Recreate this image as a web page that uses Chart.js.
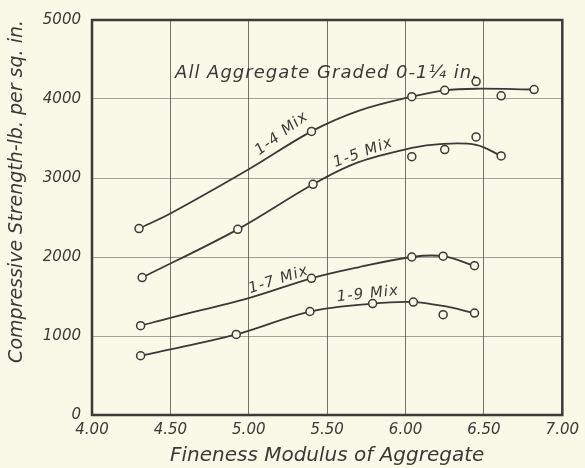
<!DOCTYPE html>
<html>
<head>
<meta charset="utf-8">
<script src="https://cdn.jsdelivr.net/npm/chart.js@4"></script>
<style>
  html, body { margin: 0; padding: 0; background: #f8f9e6; }
  #wrap { width: 585px; height: 468px; }
</style>
</head>
<body>
<div id="wrap"><canvas id="myChart" width="585" height="468"></canvas></div>
<script>
// test points (circles)
var fm14 = [4.30, 5.40, 6.04, 6.25, 6.45, 6.61, 6.82];
var str14 = [2360, 3590, 4030, 4110, 4220, 4040, 4120];
var fm15 = [4.32, 4.93, 5.41, 6.04, 6.25, 6.45, 6.61];
var str15 = [1740, 2350, 2920, 3270, 3360, 3520, 3280];
var fm17 = [4.31, 5.40, 6.04, 6.24, 6.44];
var str17 = [1130, 1730, 2000, 2010, 1890];
var fm19 = [4.31, 4.92, 5.39, 5.79, 6.05, 6.24, 6.44];
var str19 = [750, 1020, 1310, 1410, 1430, 1270, 1290];

// faired curves
var curveFm14 = [4.30, 4.50, 5.00, 5.40, 5.70, 6.04, 6.25, 6.45, 6.82];
var curveStr14 = [2360, 2550, 3110, 3590, 3850, 4030, 4110, 4130, 4120];
var curveFm15 = [4.32, 4.93, 5.41, 5.70, 6.04, 6.22, 6.45, 6.61];
var curveStr15 = [1740, 2350, 2920, 3200, 3380, 3430, 3420, 3280];
var curveFm17 = [4.31, 4.50, 5.00, 5.40, 5.70, 6.04, 6.24, 6.44];
var curveStr17 = [1130, 1230, 1480, 1730, 1870, 2000, 2010, 1890];
var curveFm19 = [4.31, 4.50, 4.92, 5.39, 5.79, 6.05, 6.24, 6.44];
var curveStr19 = [750, 830, 1020, 1310, 1410, 1430, 1380, 1290];

var mixes = ['1-4 Mix', '1-5 Mix', '1-7 Mix', '1-9 Mix'];
var xTickValues = [4.0, 4.5, 5.0, 5.5, 6.0, 6.5, 7.0];
var yTickValues = [0, 1000, 2000, 3000, 4000, 5000];

var ink = '#3a3a36';
var handFont = '"DejaVu Sans", sans-serif';

function pairs(xs, ys) {
  return xs.map(function (x, i) { return { x: x, y: ys[i] }; });
}

function curve(xs, ys, label) {
  return {
    type: 'line', label: label + ' curve', data: pairs(xs, ys),
    borderColor: ink, borderWidth: 1.8, pointRadius: 0,
    tension: 0.35, fill: false, order: 2
  };
}
function dots(xs, ys, label) {
  return {
    type: 'scatter', label: label, data: pairs(xs, ys),
    borderColor: ink, backgroundColor: '#f8f9e6', borderWidth: 1.5,
    pointRadius: 4, order: 1
  };
}

// text written on the drawing
var notes = [
  { text: 'All Aggregate Graded 0-1\u00bc in.', x: 4.53, y: 4320, rot: 0, size: 18, align: 'left' },
  { text: mixes[0], x: 5.21, y: 3560, rot: -37, size: 15, align: 'center' },
  { text: mixes[1], x: 5.73, y: 3320, rot: -20, size: 15, align: 'center' },
  { text: mixes[2], x: 5.19, y: 1710, rot: -18, size: 15, align: 'center' },
  { text: mixes[3], x: 5.76, y: 1530, rot: -6, size: 15, align: 'center' }
];

var notesPlugin = {
  id: 'notes',
  afterDatasetsDraw: function (chart) {
    var c = chart.ctx, xs = chart.scales.x, ys = chart.scales.y;
    c.save();
    c.fillStyle = ink;
    c.textBaseline = 'middle';
    notes.forEach(function (n) {
      c.save();
      c.translate(xs.getPixelForValue(n.x), ys.getPixelForValue(n.y));
      c.rotate(n.rot * Math.PI / 180);
      c.font = 'italic ' + n.size + 'px ' + handFont;
      c.letterSpacing = '1px';
      c.textAlign = n.align;
      c.fillText(n.text, 0, 0);
      c.restore();
    });
    // frame
    var a = chart.chartArea;
    c.strokeStyle = ink;
    c.lineWidth = 2.5;
    c.strokeRect(a.left, a.top, a.right - a.left, a.bottom - a.top);
    c.restore();
  }
};

var ctx = document.getElementById('myChart');
var myChart = new Chart(ctx, {
  data: {
    datasets: [
      curve(curveFm14, curveStr14, mixes[0]), dots(fm14, str14, mixes[0]),
      curve(curveFm15, curveStr15, mixes[1]), dots(fm15, str15, mixes[1]),
      curve(curveFm17, curveStr17, mixes[2]), dots(fm17, str17, mixes[2]),
      curve(curveFm19, curveStr19, mixes[3]), dots(fm19, str19, mixes[3])
    ]
  },
  options: {
    responsive: false,
    animation: false,
    layout: { padding: { top: 17, right: 19, left: 0, bottom: 0 } },
    plugins: { legend: { display: false }, tooltip: { enabled: false } },
    scales: {
      x: {
        type: 'linear', min: 4, max: 7,
        afterBuildTicks: function (s) { s.ticks = xTickValues.map(function (v) { return { value: v }; }); },
        afterFit: function (s) { s.height = 53; },
        grid: { color: 'rgba(60,60,55,0.7)', lineWidth: 1, drawTicks: false },
        border: { display: false },
        ticks: {
          padding: 6, color: ink,
          font: { family: handFont, style: 'italic', size: 15 },
          callback: function (v) { return Number(v).toFixed(2); }
        },
        title: {
          display: true, text: 'Fineness Modulus of Aggregate', color: ink,
          font: { family: handFont, style: 'italic', size: 20 }, padding: { top: 0, bottom: 0 }
        }
      },
      y: {
        type: 'linear', min: 0, max: 5000,
        afterBuildTicks: function (s) { s.ticks = yTickValues.map(function (v) { return { value: v }; }); },
        afterFit: function (s) { s.width = 92; },
        grid: { color: 'rgba(60,60,55,0.45)', lineWidth: 1, drawTicks: false },
        border: { display: false },
        ticks: {
          padding: 11, color: ink,
          font: { family: handFont, style: 'italic', size: 15 },
          callback: function (v) { return String(v); }
        },
        title: {
          display: true, text: 'Compressive Strength-lb. per sq. in.', color: ink, align: 'end',
          font: { family: handFont, style: 'italic', size: 19 }, padding: { top: 6, bottom: 0 }
        }
      }
    }
  },
  plugins: [notesPlugin]
});
</script>
</body>
</html>
